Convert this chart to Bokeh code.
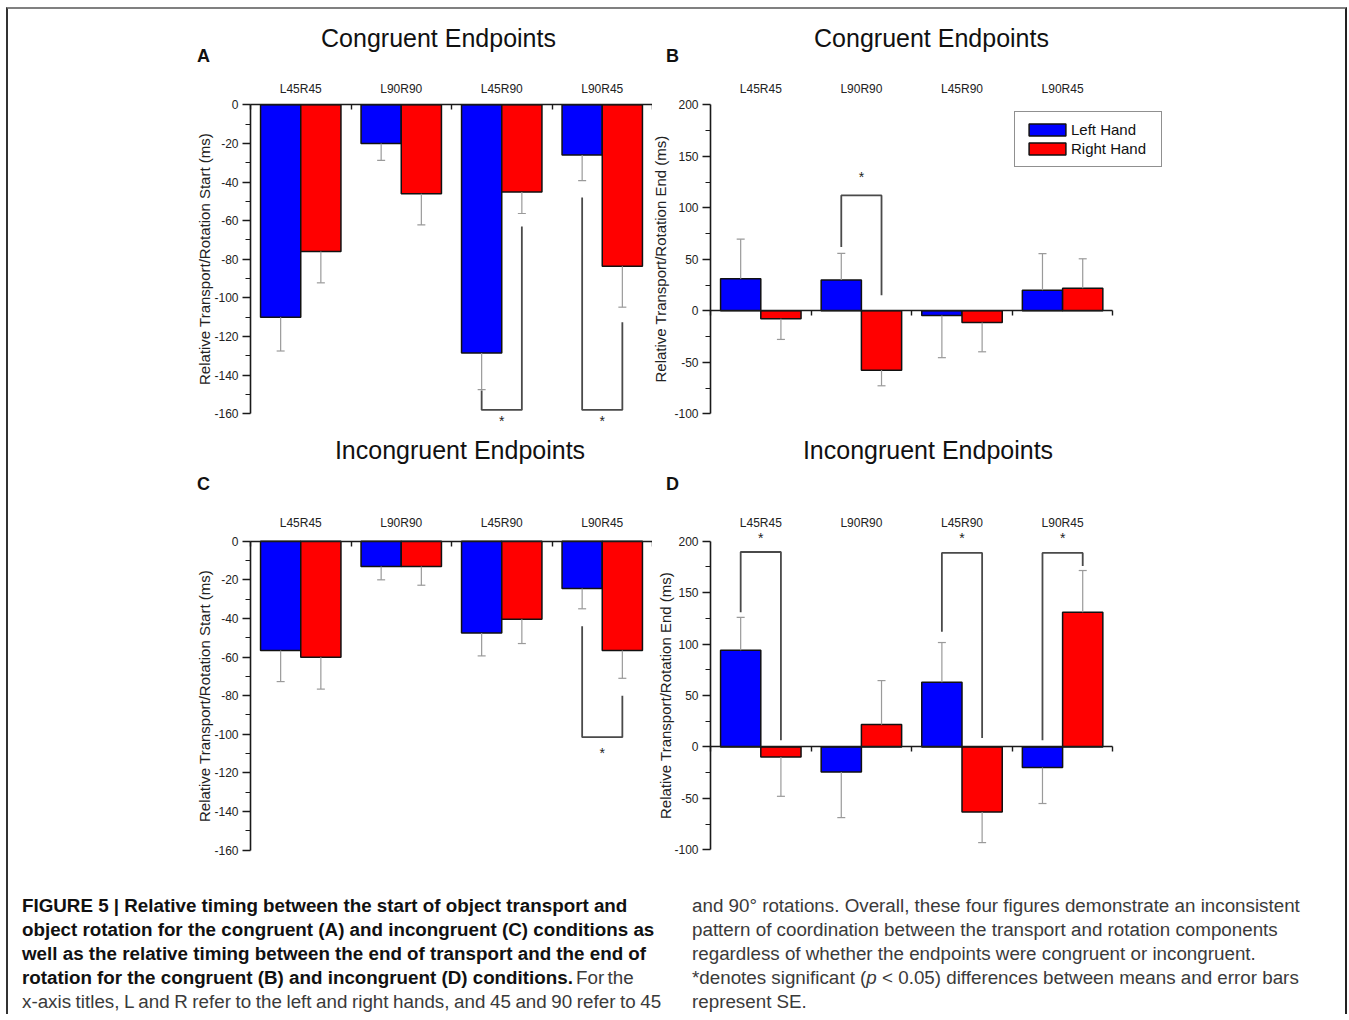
from bokeh.plotting import figure
from bokeh.models import (Range1d, LinearAxis, FixedTicker, Label, Legend, LegendItem, Div)
from bokeh.layouts import column, row
from bokeh.embed import file_html
from bokeh.resources import INLINE

FONT = "Liberation Sans"

categories = ["L45R45", "L90R90", "L45R90", "L90R45"]
series_names = ["Left Hand", "Right Hand"]

# Panel A: congruent endpoints, start (ms)
a_left = [-110, -20, -128.5, -26]
a_left_se = [17.5, 8.8, 19, 13.3]
a_right = [-76, -46, -45.2, -83.6]
a_right_se = [16.2, 16.2, 11.1, 21.2]
a_br_group = [2, 3]
a_br_left = [-148, -48]
a_br_right = [-63, -112.6]
a_br_level = [-158, -158]
a_star = [-163.5, -163.5]

# Panel B: congruent endpoints, end (ms)
b_left = [31, 30, -4.5, 20]
b_left_se = [38.5, 25.7, 41, 35.6]
b_right = [-7.8, -57.6, -11.3, 22]
b_right_se = [20, 15.2, 28.5, 28.5]
b_br_group = [1]
b_br_left = [62]
b_br_right = [15]
b_br_level = [112]
b_star = [129.5]

# Panel C: incongruent endpoints, start (ms)
c_left = [-56.6, -13.1, -47.6, -24.5]
c_left_se = [16.1, 6.9, 11.8, 10.5]
c_right = [-60.1, -13.1, -40.4, -56.6]
c_right_se = [16.5, 9.7, 12.6, 14.4]
c_br_group = [3]
c_br_left = [-44]
c_br_right = [-80]
c_br_level = [-101.5]
c_star = [-109.5]

# Panel D: incongruent endpoints, end (ms)
d_left = [94, -24.3, 62.9, -20]
d_left_se = [32, 44.4, 38.6, 35]
d_right = [-9.7, 21.7, -63.2, 131]
d_right_se = [38.3, 42.8, 29.8, 40.5]
d_br_group = [0, 2, 3]
d_br_left = [131, 112, 6.5]
d_br_right = [6.5, 8.7, 176]
d_br_level = [189.5, 188.6, 188.6]
d_star = [203, 203, 203]

start_ticks = list(range(-160, 1, 20))
start_minor = list(range(-150, 0, 20))
end_ticks = list(range(-100, 201, 50))
end_minor = list(range(-75, 200, 50))

BLUE = "#0000FF"
RED = "#FF0000"
INK = "#1a1a1a"


def tips(vals, ses):
    return [v + s if v >= 0 else v - s for v, s in zip(vals, ses)]


def make_panel(left, left_se, right, right_se, brg, brl, brr, brlev, star,
               title, letter, ylabel, yticks, yminor, ybounds, g, legend=False):
    cx, cy, cw, ch = g["canvas"]          # canvas box on the page
    px0, sx = g["px0"], g["sx"]            # page x of x=0, px per group
    pyr, yref, sy = g["pyr"], g["yref"], g["sy"]   # page y of y=yref, px per ms

    def dx(page_x):
        return (page_x - px0) / sx

    def dy(page_y):
        return yref + (pyr - page_y) / sy

    p = figure(width=cw, height=ch, output_backend="svg", toolbar_location=None,
               x_range=Range1d(dx(cx), dx(cx + cw)), y_range=Range1d(dy(cy + ch), dy(cy)),
               x_axis_location=None, y_axis_location=None,
               min_border=0, min_border_left=0, min_border_right=0,
               min_border_top=0, min_border_bottom=0)
    p.outline_line_color = None
    p.background_fill_color = "white"
    p.border_fill_color = "white"
    p.grid.visible = False
    p.grid.grid_line_color = None

    ya = LinearAxis(fixed_location=0, bounds=ybounds,
                    ticker=FixedTicker(ticks=yticks, minor_ticks=yminor),
                    major_label_overrides={t: str(t) for t in yticks},
                    axis_line_color=INK, axis_line_width=1.6,
                    major_tick_line_color=INK, major_tick_line_width=1.4,
                    minor_tick_line_color=INK, minor_tick_line_width=1.2,
                    major_tick_out=8, major_tick_in=0, minor_tick_out=5, minor_tick_in=0,
                    major_label_standoff=4, major_label_text_font=FONT,
                    major_label_text_font_size="12px", major_label_text_color="#222222",
                    axis_label=ylabel, axis_label_text_font=FONT,
                    axis_label_text_font_style="normal", axis_label_text_font_size="15px",
                    axis_label_text_color="#222222", axis_label_standoff=g["als"])
    p.add_layout(ya, "left")

    # group labels above the plot
    top_axis = LinearAxis(fixed_location=ybounds[1],
                          ticker=FixedTicker(ticks=[i + 0.5 for i in range(len(categories))]),
                          major_label_overrides={i + 0.5: c for i, c in enumerate(categories)},
                          axis_line_color=None, major_tick_line_color=None,
                          minor_tick_line_color=None,
                          major_label_standoff=g["lst"],
                          major_label_text_font=FONT,
                          major_label_text_font_size="12px",
                          major_label_text_color="#222222")
    p.add_layout(top_axis, "above")

    # category axis on the zero line
    zero_axis = LinearAxis(fixed_location=0,
                           ticker=FixedTicker(ticks=list(range(len(categories) + 1))),
                           bounds=(0, len(categories)),
                           axis_line_color=INK, axis_line_width=1.6,
                           major_tick_line_color=INK, major_tick_line_width=1.4,
                           major_tick_out=5, major_tick_in=0,
                           minor_tick_line_color=None,
                           major_label_text_color=None)
    p.add_layout(zero_axis, "below")

    n = len(categories)
    xl = [i + 0.3 for i in range(n)]
    xr = [i + 0.7 for i in range(n)]

    rl = p.vbar(x=xl, top=left, bottom=0, width=0.4, fill_color=BLUE,
                line_color="#111111", line_width=1.5)
    rr = p.vbar(x=xr, top=right, bottom=0, width=0.4, fill_color=RED,
                line_color="#111111", line_width=1.5)

    for xs, vals, ses in ((xl, left, left_se), (xr, right, right_se)):
        t = tips(vals, ses)
        p.segment(x0=xs, y0=vals, x1=xs, y1=t, line_color="#9a9a9a", line_width=1.2)
        p.scatter(x=xs, y=t, marker="dash", size=8, line_color="#9a9a9a", line_width=1.2)

    # significance brackets
    bxs, bys = [], []
    for gi, yl, yr, lev in zip(brg, brl, brr, brlev):
        bxs.append([gi + 0.3, gi + 0.3, gi + 0.7, gi + 0.7])
        bys.append([yl, lev, lev, yr])
    p.multi_line(xs=bxs, ys=bys, line_color="#4a4a4a", line_width=1.8)
    p.text(x=[gi + 0.5 for gi in brg], y=star, text=["*"] * len(brg),
           text_align="center", text_baseline="middle", text_font_size="14px",
           text_color="#222222")

    # panel title and panel letter
    tx, ty = g["title_at"]
    p.add_layout(Label(x=dx(tx), y=dy(ty), text=title, text_align="center",
                       text_baseline="middle", text_font=FONT, text_font_size="25px",
                       text_color="#111111"))
    lx, ly = g["letter_at"]
    p.add_layout(Label(x=dx(lx), y=dy(ly), text=letter, text_align="center",
                       text_baseline="middle", text_font=FONT, text_font_style="bold",
                       text_font_size="18px", text_color="#111111"))

    if legend:
        lg = Legend(items=[LegendItem(label=series_names[0], renderers=[rl]),
                           LegendItem(label=series_names[1], renderers=[rr])],
                    location=g["legloc"], orientation="vertical",
                    border_line_color="#222222", border_line_width=1.3,
                    background_fill_color="white", background_fill_alpha=1.0,
                    label_text_font=FONT, label_text_font_size="15px",
                    label_text_color="#111111",
                    glyph_width=46, glyph_height=15, label_height=17, label_width=81,
                    label_standoff=1, spacing=2, padding=9, margin=0)
        p.add_layout(lg, "center")
    return p


# page geometry (canvas x, y, width, height) and scale anchors
gA = dict(canvas=(8, 9, 644, 420), px0=250, sx=100.5, pyr=104.3, yref=0, sy=1.931,
          lst=3, als=-2, title_at=(438, 37), letter_at=(203, 55))
gB = dict(canvas=(652, 9, 693, 420), px0=710, sx=100.6, pyr=104.3, yref=200, sy=1.03,
          lst=3, als=2, title_at=(931, 37), letter_at=(672, 55), legloc=(362, 262))
gC = dict(canvas=(8, 429, 644, 450), px0=250, sx=100.5, pyr=540.7, yref=0, sy=1.931,
          lst=5, als=-2, title_at=(459.5, 449), letter_at=(203, 483))
gD = dict(canvas=(652, 429, 693, 450), px0=710, sx=100.6, pyr=540.7, yref=200, sy=1.0287,
          lst=5, als=-3, title_at=(927.5, 449), letter_at=(672, 483))

pA = make_panel(a_left, a_left_se, a_right, a_right_se, a_br_group, a_br_left, a_br_right,
                a_br_level, a_star, "Congruent Endpoints", "A",
                "Relative Transport/Rotation Start (ms)", start_ticks, start_minor, (-160, 0), gA)
pB = make_panel(b_left, b_left_se, b_right, b_right_se, b_br_group, b_br_left, b_br_right,
                b_br_level, b_star, "Congruent Endpoints", "B",
                "Relative Transport/Rotation End (ms)", end_ticks, end_minor, (-100, 200), gB,
                legend=True)
pC = make_panel(c_left, c_left_se, c_right, c_right_se, c_br_group, c_br_left, c_br_right,
                c_br_level, c_star, "Incongruent Endpoints", "C",
                "Relative Transport/Rotation Start (ms)", start_ticks, start_minor, (-160, 0), gC)
pD = make_panel(d_left, d_left_se, d_right, d_right_se, d_br_group, d_br_left, d_br_right,
                d_br_level, d_star, "Incongruent Endpoints", "D",
                "Relative Transport/Rotation End (ms)", end_ticks, end_minor, (-100, 200), gD)

cap_style = ("font-family: 'Liberation Sans', Arial, sans-serif; "
             "font-size: 18.8px; line-height: 24px; white-space: nowrap; color: #3a3a3a; "
             "margin-top: 10px; margin-left: 9px;")
cap_left_html = (
    f'<div style="{cap_style}">'
    '<b style="color:#111111">FIGURE 5 | Relative timing between the start of object transport and<br>'
    'object rotation for the congruent (A) and incongruent (C) conditions as<br>'
    'well as the relative timing between the end of transport and the end of<br>'
    'rotation for the congruent (B) and incongruent (D) conditions.</b>'
    '<span style="word-spacing:-2px"> For the</span><br>'
    '<span style="word-spacing:-0.65px">x-axis titles, L and R refer to the left and right '
    'hands, and 45 and 90 refer to 45</span>'
    '</div>')
cap_right_html = (
    f'<div style="{cap_style}">'
    'and 90&deg; rotations. Overall, these four figures demonstrate an inconsistent<br>'
    'pattern of coordination between the transport and rotation components<br>'
    'regardless of whether the endpoints were congruent or incongruent.<br>'
    '*denotes significant (<i>p</i> &lt; 0.05) differences between means and error bars<br>'
    'represent SE.'
    '</div>')
cap_left = Div(text=cap_left_html, width=660, height=125)
cap_right = Div(text=cap_right_html, width=650, height=125)

layout = column(row(pA, pB), row(pC, pD), row(cap_left, cap_right),
                styles={"margin-left": "6px", "margin-top": "7px",
                        "border-top": "2px solid #808080", "border-left": "2px solid #333333",
                        "border-right": "2px solid #222222"})

open("out.html", "w").write(file_html(layout, INLINE))
